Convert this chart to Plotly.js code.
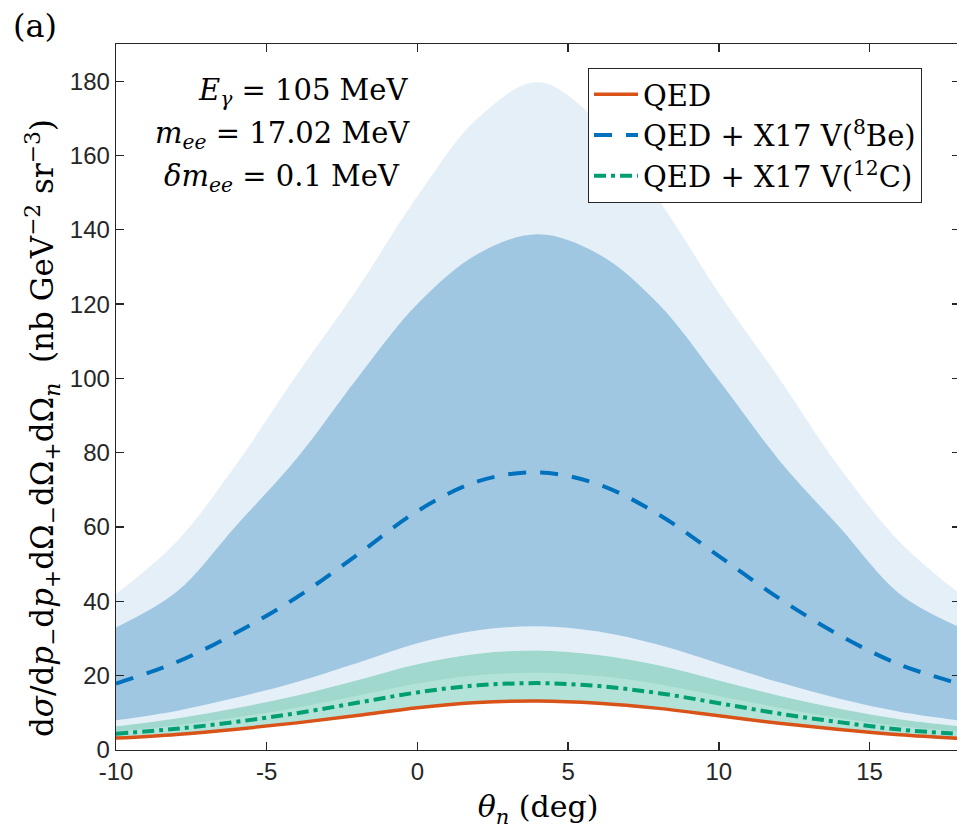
<!DOCTYPE html>
<html>
<head>
<meta charset="utf-8">
<script src="https://cdn.plot.ly/plotly-3.0.1.min.js"></script>
<style>
  html, body { margin: 0; padding: 0; overflow: hidden; background: #ffffff; }
  #chart { width: 961px; height: 831px; }
</style>
</head>
<body>
<div id="chart"></div>
<script>
// Neutron angle grid (deg)
const theta = [-10, -8, -6, -4, -2, 0, 2, 4, 6, 8, 10, 12, 14, 16, 18];

// QED cross section
const qed = [3.2, 4.2, 5.6, 7.3, 9.3, 11.4, 12.8, 13.2, 12.6, 11.2, 9.2, 7.2, 5.5, 4.1, 3.1];

// QED + X17 vector, 8Be coupling: central curve and uncertainty bands
const be8Central = [17.9, 23.6, 31.6, 41.1, 52.5, 64.3, 72.3, 74.7, 71.5, 63.4, 52.2, 40.8, 30.9, 23.0, 17.8];
const be8OuterHi = [42, 56, 77, 101, 124, 149, 170, 179.7, 169, 148, 123, 100, 76, 56, 42];
const be8InnerHi = [33, 42.5, 60.5, 78.5, 100, 120, 133.5, 138.8, 133.5, 120, 99.5, 78, 60, 42, 33];
const be8InnerLo = [8.0, 10.5, 14.1, 18.3, 23.4, 28.7, 32.2, 33.3, 31.9, 28.3, 23.3, 18.2, 13.8, 10.3, 7.9];

// QED + X17 vector, 12C coupling: central curve and uncertainty bands
const c12Central = [4.4, 5.7, 7.6, 9.9, 12.7, 15.5, 17.4, 18.0, 17.2, 15.3, 12.6, 9.8, 7.5, 5.5, 4.3];
const c12OuterHi = [6.4, 8.5, 11.3, 14.7, 18.8, 23.1, 25.9, 26.8, 25.6, 22.8, 18.7, 14.6, 11.1, 8.3, 6.4];
const c12InnerHi = [5.0, 6.6, 8.8, 11.4, 14.6, 17.9, 20.1, 20.8, 19.9, 17.7, 14.5, 11.4, 8.6, 6.4, 5.0];

// Axis ticks
const xTickVals = [-10, -5, 0, 5, 10, 15];
const xTickText = ['-10', '-5', '0', '5', '10', '15'];
const yTickVals = [0, 20, 40, 60, 80, 100, 120, 140, 160, 180];

const legendNames = [
  'QED',
  'QED + X17 V(<sup>8</sup>Be)',
  'QED + X17 V(<sup>12</sup>C)'
];

const yTitle = 'd<i>σ</i>/d<i>p</i><sub>−</sub>d<i>p</i><sub>+</sub>dΩ<sub>−</sub>dΩ<sub>+</sub>dΩ<sub><i>n</i></sub>  (nb GeV<sup>−2</sup> sr<sup>−3</sup>)';

const colors = {
  qed: '#D95319',
  be8: '#0072BD',
  c12: '#009E73',
  lightBlue: '#E4EFF7',
  darkBlue: '#A0C7E1',
  midGreen: '#A0D8CE',
  lightGreen: '#B3E3D8'
};

// A filled band between two curves: invisible lower edge, then the upper edge filled down to it
function band(lower, upper, color) {
  const base = { x: theta, mode: 'lines', hoverinfo: 'skip', showlegend: false,
                 line: { width: 0, shape: 'spline', color: color } };
  return [
    Object.assign({}, base, { y: lower }),
    Object.assign({}, base, { y: upper, fill: 'tonexty', fillcolor: color })
  ];
}

const traces = [].concat(
  band(c12OuterHi, be8OuterHi, colors.lightBlue),
  band(be8InnerLo, be8InnerHi, colors.darkBlue),
  band(qed, c12OuterHi, colors.midGreen),
  band(qed, c12InnerHi, colors.lightGreen),
  [
    { x: theta, y: qed, mode: 'lines', name: legendNames[0],
      line: { color: colors.qed, width: 3.5, shape: 'spline' } },
    { x: theta, y: be8Central, mode: 'lines', name: legendNames[1],
      line: { color: colors.be8, width: 4, dash: '18px,14px', shape: 'spline' } },
    { x: theta, y: c12Central, mode: 'lines', name: legendNames[2],
      line: { color: colors.c12, width: 4, dash: '12px,5px,4px,5px', shape: 'spline' } }
  ]
);

const axisCommon = {
  showgrid: false, zeroline: false,
  showline: true, linecolor: '#262626', linewidth: 1.3, mirror: 'ticks',
  ticks: 'inside', ticklen: 8, tickwidth: 1.3, tickcolor: '#262626',
  tickfont: { family: 'Liberation Sans, Arial, sans-serif', size: 24, color: '#262626' }
};

const serif = 'DejaVu Serif, serif';

// Place a text label using pixel positions inside the 961x831 figure
const L = 116, B = 750, W = 844, H = 706;
const px = v => (v - L) / W;
const py = v => (B - v) / H;

const layout = {
  width: 961, height: 831,
  margin: { l: 116, r: 1, t: 44, b: 81 },
  paper_bgcolor: '#ffffff', plot_bgcolor: '#ffffff',
  showlegend: true,
  xaxis: Object.assign({}, axisCommon, {
    range: [-10, 18], tickvals: xTickVals, ticktext: xTickText,
    title: { text: '<i>θ</i><sub><i>n</i></sub> (deg)', font: { family: serif, size: 30, color: '#000' }, standoff: 12 }
  }),
  yaxis: Object.assign({}, axisCommon, {
    range: [0, 190], tickvals: yTickVals
  }),
  legend: {
    x: px(588), y: py(68), xanchor: 'left', yanchor: 'top',
    bgcolor: '#ffffff', bordercolor: '#262626', borderwidth: 1, itemwidth: 44,
    font: { family: serif, size: 29, color: '#000' }, traceorder: 'normal'
  },
  annotations: [
    { text: yTitle, textangle: -90, xref: 'paper', yref: 'paper', x: px(42), y: py(428),
      xanchor: 'center', yanchor: 'middle', showarrow: false,
      font: { family: serif, size: 31, color: '#000' } },
    { text: '(a)', xref: 'paper', yref: 'paper', x: px(11), y: py(26),
      xanchor: 'left', yanchor: 'middle', showarrow: false,
      font: { family: serif, size: 32, color: '#000' } },
    { text: '<i>E</i><sub><i>γ</i></sub> = 105 MeV', xref: 'paper', yref: 'paper',
      x: px(410), y: py(92), xanchor: 'right', yanchor: 'middle', showarrow: false,
      font: { family: serif, size: 29, color: '#000' } },
    { text: '<i>m</i><sub><i>ee</i></sub> = 17.02 MeV', xref: 'paper', yref: 'paper',
      x: px(412), y: py(135), xanchor: 'right', yanchor: 'middle', showarrow: false,
      font: { family: serif, size: 29, color: '#000' } },
    { text: '<i>δm</i><sub><i>ee</i></sub> = 0.1 MeV', xref: 'paper', yref: 'paper',
      x: px(402), y: py(178), xanchor: 'right', yanchor: 'middle', showarrow: false,
      font: { family: serif, size: 29, color: '#000' } }
  ]
};

Plotly.newPlot('chart', traces, layout, { displayModeBar: false, staticPlot: true });
</script>
</body>
</html>
